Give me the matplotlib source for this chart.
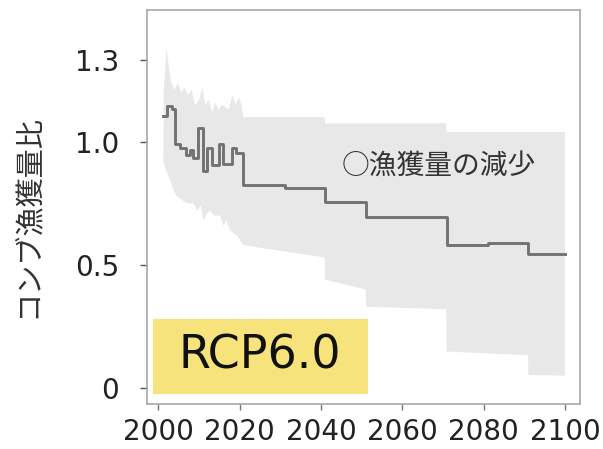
import numpy as np
import matplotlib
matplotlib.use('Agg')
import matplotlib.pyplot as plt
from matplotlib.patches import Rectangle

# コンブ漁獲量比の将来予測 (RCP6.0)

# 中央値（階段状）
line_years = [2001.2, 2002.1, 2003.3, 2004.1, 2005.3, 2006.8, 2007.8, 2008.6, 2009.8,
              2011.0, 2011.9, 2013.1, 2014.8, 2015.8, 2018.0, 2019.1, 2020.9,
              2031.1, 2041.0, 2051.1, 2070.9, 2081.0, 2090.9, 2100.0]
line_ratio = [1.105, 1.145, 1.135, 0.99, 0.975, 0.945, 0.965, 0.935, 1.055,
              0.88, 0.975, 0.905, 0.99, 0.91, 0.975, 0.955, 0.825,
              0.812, 0.757, 0.696, 0.581, 0.588, 0.543, 0.543]

# 幅の上限
hi_years = [2001.3, 2002.0, 2002.6, 2003.2, 2004.0, 2004.8, 2005.6, 2006.4, 2007.3, 2008.2,
            2009.0, 2010.0, 2010.8, 2011.6, 2012.4, 2013.2, 2014.0, 2014.8, 2015.6, 2016.5,
            2017.3, 2018.2, 2019.0, 2019.8, 2020.3, 2020.9, 2040.9, 2041.0, 2070.8, 2070.9,
            2100.0]
hi_ratio = [1.20, 1.38, 1.30, 1.24, 1.21, 1.24, 1.20, 1.22, 1.19, 1.21,
            1.15, 1.17, 1.22, 1.15, 1.17, 1.12, 1.16, 1.13, 1.15, 1.14,
            1.13, 1.19, 1.15, 1.18, 1.16, 1.10, 1.10, 1.075, 1.075, 1.04,
            1.04]

# 幅の下限
lo_years = [2001.2, 2002.0, 2002.9, 2003.8, 2004.5, 2005.3, 2006.1, 2007.2, 2008.6, 2009.6,
            2010.4, 2011.1, 2012.0, 2012.7, 2013.8, 2015.2, 2016.0, 2016.8, 2017.6, 2018.4,
            2019.3, 2020.1, 2020.9, 2040.9, 2041.0, 2051.0, 2051.1, 2070.8, 2070.9, 2090.9,
            2091.0, 2100.0]
lo_ratio = [0.92, 0.88, 0.845, 0.80, 0.78, 0.77, 0.76, 0.75, 0.75, 0.72,
            0.74, 0.68, 0.71, 0.72, 0.70, 0.70, 0.66, 0.68, 0.64, 0.63,
            0.62, 0.60, 0.58, 0.53, 0.44, 0.40, 0.33, 0.32, 0.148, 0.134,
            0.053, 0.05]

x_ticks = [2000, 2020, 2040, 2060, 2080, 2100]
y_ticks = [0, 0.5, 1.0, 1.33]
y_tick_labels = ['0', '0.5', '1.0', '1.3']

plt.rcParams['font.family'] = ['DejaVu Sans']
jp_font = ['Noto Sans CJK JP', 'DejaVu Sans']

fig = plt.figure(figsize=(6.03, 4.49), dpi=100)
ax = fig.add_axes([0.2438, 0.1002, 0.7181, 0.8775])

# 灰色の幅
poly_x = np.concatenate([hi_years, lo_years[::-1]])
poly_y = np.concatenate([hi_ratio, lo_ratio[::-1]])
ax.fill(poly_x, poly_y, color='#e8e8e8', lw=0, zorder=1)

# 中央値
ax.step(line_years, line_ratio, where='post', color='#727272', lw=2.1, zorder=3)

ax.set_xlim(1997.2, 2103.7)
ax.set_ylim(-0.065, 1.535)
ax.set_xticks(x_ticks)
ax.set_xticklabels([str(v) for v in x_ticks])
ax.set_yticks(y_ticks)
ax.set_yticklabels(y_tick_labels)

for s in ax.spines.values():
    s.set_color('#a8a8a8')
    s.set_linewidth(1.2)

ax.tick_params(axis='y', length=5, width=1, color='#555555', pad=15,
               labelsize=20, labelcolor='#222222')
ax.tick_params(axis='x', length=4, width=1, color='#777777', pad=6,
               labelsize=20, labelcolor='#222222')

ax.set_ylabel('コンブ漁獲量比', family=jp_font, fontsize=21, color='#333333')
ax.yaxis.set_label_coords(-0.240, 0.477)

ax.text(2069.0, 0.898, '○漁獲量の減少', family=jp_font, fontsize=20,
        color='#333333', ha='center', va='center', zorder=4)

# シナリオ名
ax.add_patch(Rectangle((0.014, 0.025), 0.496, 0.191, transform=ax.transAxes,
                       facecolor='#f6e37c', edgecolor='none', zorder=5))
ax.text(0.26, 0.0906, 'RCP6.0', transform=ax.transAxes, fontsize=33,
        color='#111111', ha='center', va='baseline', zorder=6)

fig.savefig('out.png', dpi=100)
